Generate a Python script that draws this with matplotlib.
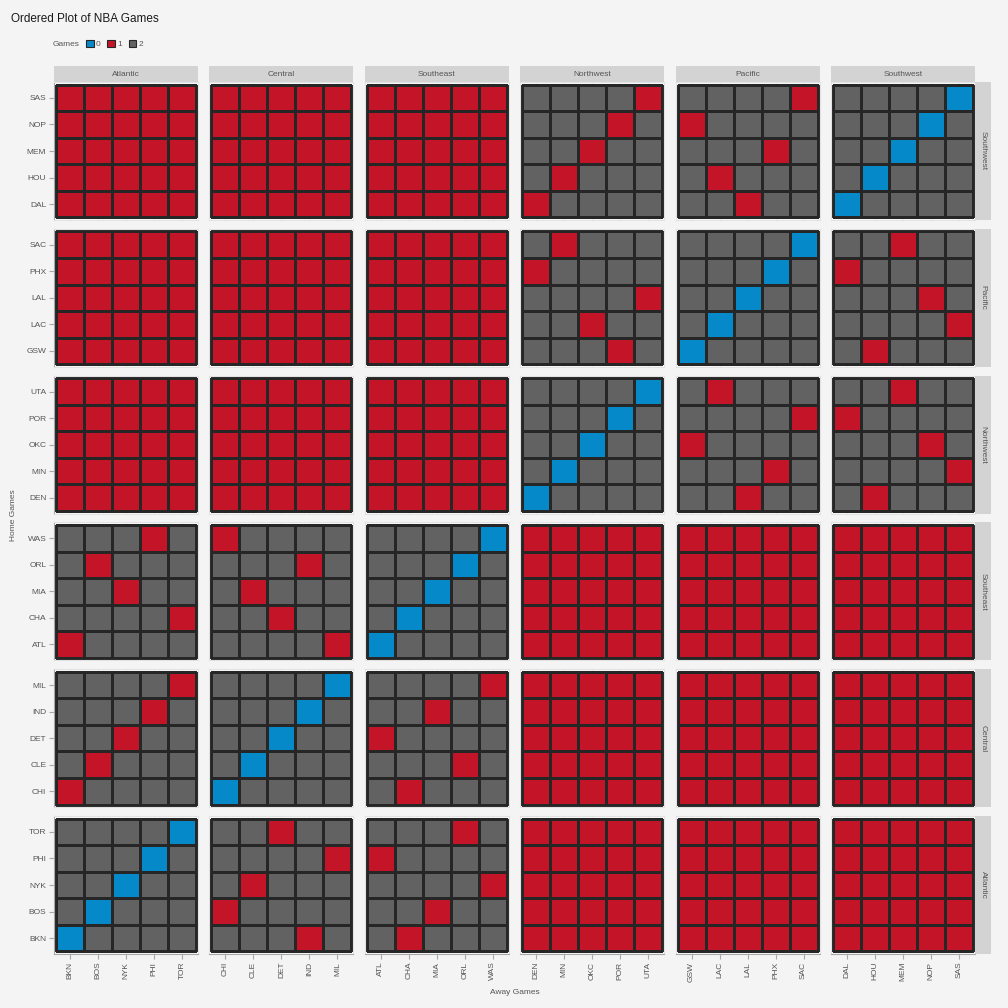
import matplotlib.pyplot as plt
from matplotlib.colors import ListedColormap, BoundaryNorm
from matplotlib.patches import Patch, Rectangle
import numpy as np

plt.rcParams['font.family'] = ['Liberation Sans', 'DejaVu Sans']

divisions = ['Atlantic', 'Central', 'Southeast', 'Northwest', 'Pacific', 'Southwest']
teams = {
    'Atlantic': ['BKN', 'BOS', 'NYK', 'PHI', 'TOR'],
    'Central': ['CHI', 'CLE', 'DET', 'IND', 'MIL'],
    'Southeast': ['ATL', 'CHA', 'MIA', 'ORL', 'WAS'],
    'Northwest': ['DEN', 'MIN', 'OKC', 'POR', 'UTA'],
    'Pacific': ['GSW', 'LAC', 'LAL', 'PHX', 'SAC'],
    'Southwest': ['DAL', 'HOU', 'MEM', 'NOP', 'SAS'],
}

# games per home team (row) vs away team, grouped by away division
atlantic_home = [
    "02222 22212 21222 11111 11111 11111",  # BKN
    "20222 12222 22122 11111 11111 11111",  # BOS
    "22022 21222 22221 11111 11111 11111",  # NYK
    "22202 22221 12222 11111 11111 11111",  # PHI
    "22220 22122 22212 11111 11111 11111",  # TOR
]
central_home = [
    "12222 02222 21222 11111 11111 11111",  # CHI
    "21222 20222 22212 11111 11111 11111",  # CLE
    "22122 22022 12222 11111 11111 11111",  # DET
    "22212 22202 22122 11111 11111 11111",  # IND
    "22221 22220 22221 11111 11111 11111",  # MIL
]
southeast_home = [
    "12222 22221 02222 11111 11111 11111",  # ATL
    "22221 22122 20222 11111 11111 11111",  # CHA
    "22122 21222 22022 11111 11111 11111",  # MIA
    "21222 22212 22202 11111 11111 11111",  # ORL
    "22212 12222 22220 11111 11111 11111",  # WAS
]
northwest_home = [
    "11111 11111 11111 02222 22122 21222",  # DEN
    "11111 11111 11111 20222 22212 22221",  # MIN
    "11111 11111 11111 22022 12222 22212",  # OKC
    "11111 11111 11111 22202 22221 12222",  # POR
    "11111 11111 11111 22220 21222 22122",  # UTA
]
pacific_home = [
    "11111 11111 11111 22212 02222 21222",  # GSW
    "11111 11111 11111 22122 20222 22221",  # LAC
    "11111 11111 11111 22221 22022 22212",  # LAL
    "11111 11111 11111 12222 22202 12222",  # PHX
    "11111 11111 11111 21222 22220 22122",  # SAC
]
southwest_home = [
    "11111 11111 11111 12222 22122 02222",  # DAL
    "11111 11111 11111 21222 21222 20222",  # HOU
    "11111 11111 11111 22122 22212 22022",  # MEM
    "11111 11111 11111 22212 12222 22202",  # NOP
    "11111 11111 11111 22221 22221 22220",  # SAS
]
home_rows = {
    'Atlantic': atlantic_home, 'Central': central_home, 'Southeast': southeast_home,
    'Northwest': northwest_home, 'Pacific': pacific_home, 'Southwest': southwest_home,
}
row_order = ['Southwest', 'Pacific', 'Northwest', 'Southeast', 'Central', 'Atlantic']
game_levels = ['0', '1', '2']
game_colors = ['#0589c9', '#c41528', '#626262']

W = H = 1008
BG = '#f4f4f4'
STRIP = '#d3d3d3'
TXT = '#555555'
FS = 6


def px(x0, y0, w, h):
    return [x0 / W, 1 - (y0 + h) / H, w / W, h / H]


fig = plt.figure(figsize=(10.08, 10.08), dpi=100, facecolor=BG)
cmap = ListedColormap(game_colors)
norm = BoundaryNorm([-0.5, 0.5, 1.5, 2.5], 3)

pw, ph = 144, 138
for r, hdiv in enumerate(row_order):
    for c, adiv in enumerate(divisions):
        left = 54 + c * 155.4
        top = 82 + r * 146.8
        ax = fig.add_axes(px(left, top, pw, ph))
        vals = np.array([[int(ch) for ch in row.split()[c]] for row in home_rows[hdiv]])
        ax.pcolormesh(np.arange(6) - 0.5, np.arange(6) - 0.5, vals, cmap=cmap, norm=norm,
                      edgecolors='#262626', linewidth=0.75)
        ax.set_xlim(-0.57, 4.57)
        ax.set_ylim(-0.6, 4.6)
        ax.set_facecolor('#f8f8f8')
        ax.set_axisbelow(True)
        ax.grid(True, color='#e6e6e6', linewidth=0.6)
        ax.set_xticks(range(5))
        ax.set_yticks(range(5))
        for s in ax.spines.values():
            s.set_color('#e2e2e2')
            s.set_linewidth(0.8)
        ax.tick_params(length=0, labelleft=False, labelbottom=False)
        if c == 0:
            ax.spines['left'].set_color('#a8a8a8')
            ax.tick_params(axis='y', length=3.5, color='#a8a8a8', labelleft=True,
                           labelsize=FS, labelcolor=TXT, pad=2)
            ax.set_yticklabels(teams[hdiv])
        if r == len(row_order) - 1:
            ax.spines['bottom'].set_color('#a8a8a8')
            ax.tick_params(axis='x', length=3.5, color='#a8a8a8', labelbottom=True,
                           labelsize=FS, labelcolor=TXT, pad=2)
            ax.set_xticklabels(teams[adiv], rotation=90)

        # top strips
        if r == 0:
            fig.add_artist(Rectangle((left / W, 1 - top / H), pw / W, 16 / H,
                                     transform=fig.transFigure, facecolor=STRIP, edgecolor='none'))
            fig.text((left + pw / 2) / W, 1 - (top - 8) / H, adiv, ha='center', va='center',
                     fontsize=FS, color=TXT)
        # right strips
        if c == len(divisions) - 1:
            fig.add_artist(Rectangle(((left + pw) / W, 1 - (top + ph) / H), 16 / W, ph / H,
                                     transform=fig.transFigure, facecolor=STRIP, edgecolor='none'))
            fig.text((left + pw + 8) / W, 1 - (top + ph / 2) / H, hdiv, ha='center', va='center',
                     rotation=-90, fontsize=FS, color=TXT)

fig.text(11 / W, 1 - 19 / H, 'Ordered Plot of NBA Games', fontsize=8.5, color='#1a1a1a',
         va='center', ha='left', weight='medium')
fig.text(515 / W, 1 - 992 / H, 'Away Games', fontsize=FS, color=TXT, ha='center', va='center')
fig.text(14 / W, 1 - 515 / H, 'Home Games', fontsize=FS, color=TXT, ha='center', va='center',
         rotation=90)

# legend
fig.text(53 / W, 1 - 44 / H, 'Games', fontsize=FS, color=TXT, ha='left', va='center')
handles = [Patch(facecolor=col, edgecolor='#262626', linewidth=0.8) for col in game_colors]
fig.legend(handles, game_levels, ncol=3, frameon=False, loc='center left',
           bbox_to_anchor=(86 / W, 1 - 44 / H), fontsize=FS, labelcolor=TXT,
           handlelength=0.9, handleheight=0.9, handletextpad=0.3, columnspacing=0.8,
           borderpad=0, borderaxespad=0)

fig.savefig('out.png', dpi=100, facecolor=BG)
